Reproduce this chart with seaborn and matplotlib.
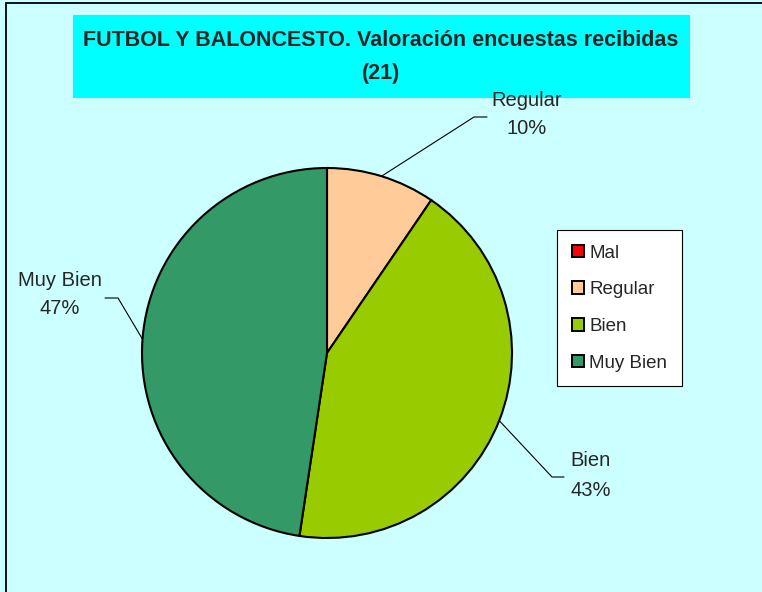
import matplotlib
matplotlib.use("Agg")
import matplotlib.pyplot as plt
import seaborn as sns
from matplotlib.patches import Rectangle, Patch
import numpy as np

categories = ["Mal", "Regular", "Bien", "Muy Bien"]
counts = [0, 2, 9, 10]
pct_labels = ["0%", "10%", "43%", "47%"]
colors = ["#FF0000", "#FFCC99", "#99CC00", "#339966"]
title_line1 = "FUTBOL Y BALONCESTO. Valoración encuestas recibidas"
title_line2 = "(21)"

sns.set_style("white")
plt.rcParams['font.family'] = ['Liberation Sans', 'DejaVu Sans']
palette = sns.color_palette(colors)

W, H = 762, 592
BG = "#CCFFFF"
fig = plt.figure(figsize=(W / 100, H / 100), dpi=100)
fig.patch.set_facecolor(BG)
ax = fig.add_axes([0, 0, 1, 1])
ax.set_facecolor(BG)


def Y(y):
    return H - y


cx, cy, R = 327, Y(353), 185
wedges, _ = ax.pie(counts, colors=palette, startangle=90, counterclock=False,
                   center=(cx, cy), radius=R, frame=True,
                   wedgeprops=dict(edgecolor='black', linewidth=1.5))
ax.set_xlim(0, W)
ax.set_ylim(0, H)
ax.set_aspect('equal')
ax.axis('off')

# outer border (chart area cropped at right/bottom)
ax.add_patch(Rectangle((6, -20), W + 40, Y(3) + 20, fill=False,
                       edgecolor='black', linewidth=1.3))

# title box
ax.add_patch(Rectangle((73, Y(98)), 690 - 73, 98 - 15, facecolor="#00FFFF",
                       edgecolor='none'))
tkw = dict(fontsize=15.5, fontweight='bold')
ax.text(381, Y(40), title_line1, ha='center', va='center', **tkw)
ax.text(381, Y(74), title_line2, ha='center', va='center', **tkw)

# data labels with leader lines
label_pos = {1: (527, 100, 128), 2: (591, 461, 490), 3: (60, 281, 309)}
elbows = {1: [(474, 117), (487, 117)], 2: [(552, 477), (564, 477)],
          3: [(118, 298), (105, 298)]}
for i, (tx, y1, y2) in label_pos.items():
    w = wedges[i]
    mid = np.deg2rad((w.theta1 + w.theta2) / 2)
    sx, sy = cx + R * np.cos(mid), cy + R * np.sin(mid)
    pts = [(sx, sy)] + [(px, Y(py)) for px, py in elbows[i]]
    ax.plot([p[0] for p in pts], [p[1] for p in pts], color='black', lw=0.8)
    ax.text(tx, Y(y1), categories[i], ha='center', va='center', fontsize=14.5)
    ax.text(tx, Y(y2), pct_labels[i], ha='center', va='center', fontsize=14.5)

handles = [Patch(facecolor=c, edgecolor='black', linewidth=1.4) for c in colors]
leg = ax.legend(handles, categories, loc='upper left',
                bbox_to_anchor=(557 / W, 1 - 230 / H), frameon=True,
                fancybox=False, edgecolor='black', facecolor='white',
                fontsize=13.5, handlelength=0.65, handleheight=0.65,
                handletextpad=0.3, labelspacing=1.05, borderpad=0.78,
                borderaxespad=0, framealpha=1)
leg.get_frame().set_linewidth(0.8)

fig.savefig("out.png", dpi=100, facecolor=BG)
